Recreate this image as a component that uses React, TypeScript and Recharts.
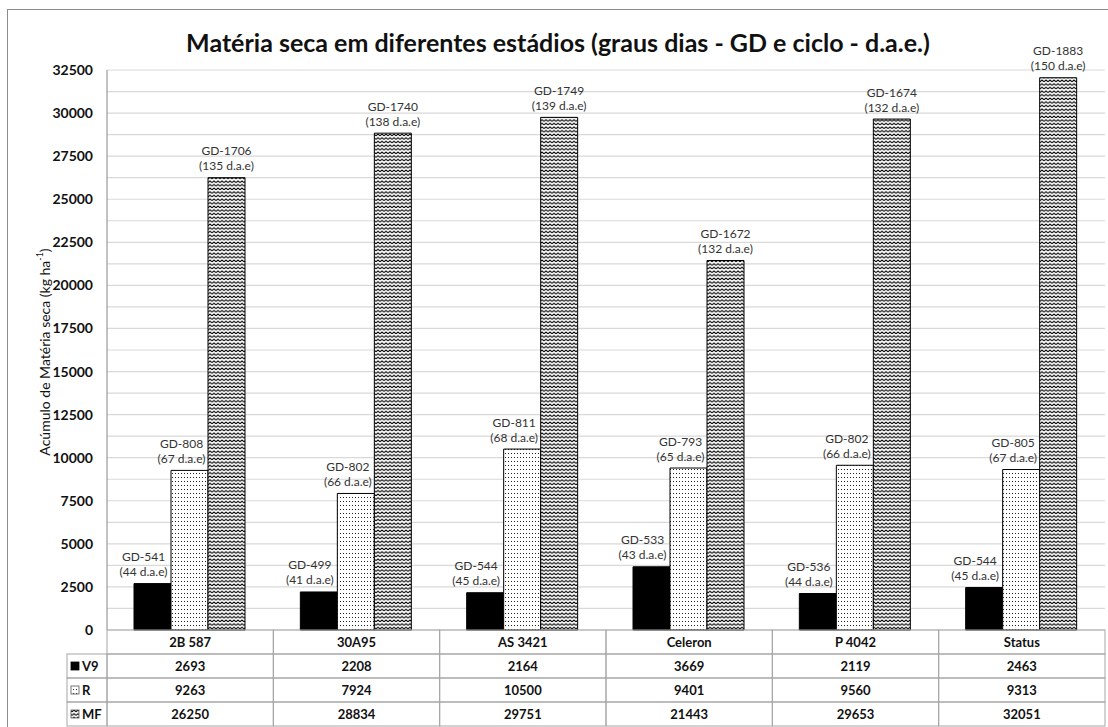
import React from 'react';
import { BarChart, Bar, XAxis, YAxis, CartesianGrid, LabelList } from 'recharts';

// categories and series (kg ha-1)
const categories = ['2B 587', '30A95', 'AS 3421', 'Celeron', 'P 4042', 'Status'];
const v9 = [2693, 2208, 2164, 3669, 2119, 2463];
const r = [9263, 7924, 10500, 9401, 9560, 9313];
const mf = [26250, 28834, 29751, 21443, 29653, 32051];

// graus dias and d.a.e. per stage
const gdV9 = [541, 499, 544, 533, 536, 544];
const daeV9 = [44, 41, 45, 43, 44, 45];
const gdR = [808, 802, 811, 793, 802, 805];
const daeR = [67, 66, 68, 65, 66, 67];
const gdMF = [1706, 1740, 1749, 1672, 1674, 1883];
const daeMF = [135, 138, 139, 132, 132, 150];

const yTicks = [
  0, 1250, 2500, 3750, 5000, 6250, 7500, 8750, 10000, 11250, 12500, 13750, 15000,
  16250, 17500, 18750, 20000, 21250, 22500, 23750, 25000, 26250, 27500, 28750,
  30000, 31250, 32500,
];

const data = categories.map((name, i) => ({ name, V9: v9[i], R: r[i], MF: mf[i] }));

const FONT = 'Lato, "Open Sans", sans-serif';
const W = 1108;
const H = 727;
const PLOT_LEFT = 107;
const PLOT_RIGHT = 1105;
const PLOT_BOTTOM = 630;
const ROW = 24;
const CW = (PLOT_RIGHT - PLOT_LEFT) / categories.length;
const GRID = '#a6a6a6';

const Patterns = ({ prefix }: { prefix: string }) => (
  <defs>
    <pattern id={`${prefix}dots`} width={3} height={4} patternUnits="userSpaceOnUse">
      <rect width={3} height={4} fill="#fff" />
      <rect x={1} y={1} width={1} height={1} fill="#222" />
    </pattern>
    <pattern id={`${prefix}zig`} width={4} height={3.6} patternUnits="userSpaceOnUse">
      <rect width={4} height={3.6} fill="#fff" />
      <path d="M0,2.6 L2,0.9 L4,2.6" stroke="#000" strokeWidth={1.1} fill="none" />
    </pattern>
  </defs>
);

const makeLabel = (gd: number[], dae: number[], dx: number) => (props: any) => {
  const { x, y, width, index } = props;
  const cx = x + width / 2 + dx;
  return (
    <g>
      <text x={cx} y={y - 27} textAnchor="middle" dominantBaseline="central"
        fontFamily={FONT} fontSize={12} fill="#333">
        {`GD-${gd[index]}`}
      </text>
      <text x={cx} y={y - 12} textAnchor="middle" dominantBaseline="central"
        fontFamily={FONT} fontSize={12} fill="#333">
        {`(${dae[index]} d.a.e)`}
      </text>
    </g>
  );
};

// x axis tick drawn as one column of the data table
const TableTick = (props: any) => {
  const { x, payload, index } = props;
  const left = x - CW / 2;
  const vals = [v9[index], r[index], mf[index]];
  return (
    <g>
      {[0, 1, 2, 3].map((k) => (
        <rect key={k} x={left} y={PLOT_BOTTOM + k * ROW} width={CW} height={ROW}
          fill="none" stroke={GRID} strokeWidth={1} />
      ))}
      <text x={x} y={PLOT_BOTTOM + ROW / 2} textAnchor="middle" dominantBaseline="central"
        fontFamily={FONT} fontWeight="bold" fontSize={13} fill="#111">
        {payload.value}
      </text>
      {vals.map((v, k) => (
        <text key={k} x={x} y={PLOT_BOTTOM + ROW * (k + 1) + ROW / 2} textAnchor="middle"
          dominantBaseline="central" fontFamily={FONT} fontWeight="bold" fontSize={13} fill="#111">
          {v}
        </text>
      ))}
    </g>
  );
};

const legendRows = [
  { name: 'V9', fill: '#000' },
  { name: 'R', fill: 'url(#lgdots)' },
  { name: 'MF', fill: 'url(#lgzig)' },
];

export default function App() {
  return (
    <div style={{ position: 'fixed', left: 0, top: 0, width: W, height: H, overflow: 'hidden', background: '#fff' }}>
      <div style={{ position: 'absolute', left: 7, top: 9, width: 1120, height: 740, border: '1px solid #8c8c8c' }} />
      <div style={{ position: 'absolute', left: 0, top: 0 }}>
        <BarChart width={W} height={H} data={data}
          margin={{ top: 70, right: W - PLOT_RIGHT, bottom: H - PLOT_BOTTOM - ROW, left: PLOT_LEFT - 60 }}
          barGap={0} barCategoryGap={27}>
          <Patterns prefix="p" />
          <CartesianGrid vertical={false} stroke="#d9d9d9" strokeWidth={1.2} />
          <XAxis dataKey="name" axisLine={false} tickLine={false} height={ROW} interval={0} tick={<TableTick />} />
          <YAxis width={60} domain={[0, 32500]} ticks={yTicks} interval={0} tickLine={false}
            axisLine={{ stroke: '#868686' }} tickMargin={8}
            tickFormatter={(v: number) => (v % 2500 === 0 ? String(v) : '')}
            tick={{ fontFamily: FONT, fontWeight: 'bold', fontSize: 14, fill: '#111' }} />
          <Bar dataKey="V9" fill="#000" stroke="#000" strokeWidth={1} isAnimationActive={false}>
            <LabelList dataKey="V9" content={makeLabel(gdV9, daeV9, -9)} />
          </Bar>
          <Bar dataKey="R" fill="url(#pdots)" stroke="#000" strokeWidth={1} isAnimationActive={false}>
            <LabelList dataKey="R" content={makeLabel(gdR, daeR, -8)} />
          </Bar>
          <Bar dataKey="MF" fill="url(#pzig)" stroke="#000" strokeWidth={1} isAnimationActive={false}>
            <LabelList dataKey="MF" content={makeLabel(gdMF, daeMF, 0)} />
          </Bar>
        </BarChart>
      </div>
      <svg width={W} height={H} style={{ position: 'absolute', left: 0, top: 0, pointerEvents: 'none' }}>
        <Patterns prefix="lg" />
        <text x={558} y={42} textAnchor="middle" dominantBaseline="central"
          fontFamily={FONT} fontWeight="bold" fontSize={25} fill="#111">
          Matéria seca em diferentes estádios (graus dias - GD e ciclo - d.a.e.)
        </text>
        <text x={44} y={352} textAnchor="middle" dominantBaseline="central"
          transform="rotate(-90, 44, 352)" fontFamily={FONT} fontSize={14} fill="#111">
          Acúmulo de Matéria seca (kg ha
          <tspan dy={-5} fontSize={9}>-1</tspan>
          <tspan dy={5}>)</tspan>
        </text>
        {legendRows.map((row, k) => {
          const top = PLOT_BOTTOM + ROW * (k + 1);
          return (
            <g key={row.name}>
              <rect x={67} y={top} width={PLOT_LEFT - 67} height={ROW} fill="none" stroke={GRID} />
              <rect x={71} y={top + 8} width={8} height={8} fill={row.fill}
                stroke={k === 0 ? '#000' : '#555'} strokeWidth={0.8} />
              <text x={82} y={top + ROW / 2} dominantBaseline="central"
                fontFamily={FONT} fontWeight="bold" fontSize={13} fill="#111">
                {row.name}
              </text>
            </g>
          );
        })}
      </svg>
    </div>
  );
}
